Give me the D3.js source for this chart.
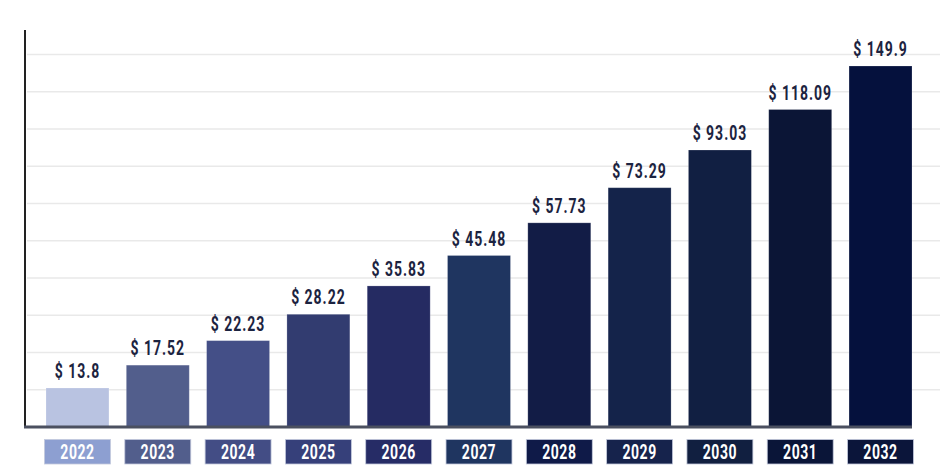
<!DOCTYPE html>
<html>
<head>
<meta charset="utf-8">
<script src="https://cdn.jsdelivr.net/npm/d3@7"></script>
<style>
  html, body { margin: 0; padding: 0; background: #fff; }
  svg { display: block; }
  text { font-family: Roboto, 'Noto Sans', sans-serif; font-weight: bold; }
</style>
</head>
<body>
<script>
(function (d3) {
  'use strict';

  const years = ['2022', '2023', '2024', '2025', '2026', '2027', '2028', '2029', '2030', '2031', '2032'];
  const values = [13.8, 17.52, 22.23, 28.22, 35.83, 45.48, 57.73, 73.29, 93.03, 118.09, 149.9];
  const barColors = ['#b9c3e1', '#525e8c', '#444f87', '#323c70', '#252b62', '#1f3560',
                     '#121c46', '#14234a', '#111f42', '#0b1536', '#05113d'];
  const boxColors = ['#8d9fd1', '#525e8c', '#434d85', '#36407a', '#262c66', '#1f3560',
                     '#0f1a48', '#16234c', '#111f40', '#0a1538', '#0b153a'];
  const gridSteps = 10;

  const width = 940;
  const height = 475;
  const margin = { top: 30, right: 28, bottom: 48, left: 25 };
  const baseY = height - margin.bottom; // 427
  const squeeze = 0.7; // the original font is a condensed one

  const svg = d3.select('body')
    .append('svg')
    .attr('width', width)
    .attr('height', height);

  const data = years.map((y, i) => ({ year: y, value: values[i], bar: barColors[i], box: boxColors[i] }));

  const x = d3.scaleBand()
    .domain(years)
    .range([46, 912])
    .paddingInner(0.216)
    .paddingOuter(0);

  // the bars in the picture are not linear in value; a power scale matches them
  const y = d3.scalePow()
    .exponent(0.3)
    .domain([13.8, 149.9])
    .range([388, 66]);

  const grid = d3.scaleLinear()
    .domain([0, gridSteps])
    .range([baseY, 54.6]);

  // grid lines
  svg.append('g')
    .selectAll('line')
    .data(d3.range(1, gridSteps + 1))
    .join('line')
    .attr('x1', margin.left + 2)
    .attr('x2', width)
    .attr('y1', (d) => grid(d))
    .attr('y2', (d) => grid(d))
    .attr('stroke', '#e9e9e9')
    .attr('stroke-width', 1.5);

  // bars
  svg.append('g')
    .selectAll('rect')
    .data(data)
    .join('rect')
    .attr('x', (d) => x(d.year))
    .attr('y', (d) => y(d.value))
    .attr('width', x.bandwidth())
    .attr('height', (d) => baseY - y(d.value))
    .attr('fill', (d) => d.bar)
    .attr('stroke', 'rgba(255,255,255,0.25)')
    .attr('stroke-width', 0.8);

  // value labels
  svg.append('g')
    .selectAll('text')
    .data(data)
    .join('text')
    .attr('transform', (d) => `translate(${x(d.year) + x.bandwidth() / 2},${y(d.value) - 10}) scale(${squeeze},1)`)
    .attr('text-anchor', 'middle')
    .attr('font-size', 20)
    .attr('letter-spacing', 1.4)
    .attr('fill', '#1c2340')
    .text((d) => '$ ' + d.value);

  // axes lines
  svg.append('line')
    .attr('x1', margin.left)
    .attr('x2', margin.left)
    .attr('y1', margin.top)
    .attr('y2', baseY + 1)
    .attr('stroke', '#222')
    .attr('stroke-width', 2);

  svg.append('line')
    .attr('x1', margin.left - 1)
    .attr('x2', 912)
    .attr('y1', baseY)
    .attr('y2', baseY)
    .attr('stroke', '#4b5060')
    .attr('stroke-width', 3);

  // year boxes
  const boxes = svg.append('g')
    .selectAll('g')
    .data(data)
    .join('g')
    .attr('transform', (d) => `translate(${x(d.year) - 1.5},439.5)`);

  boxes.append('rect')
    .attr('width', x.bandwidth() + 3)
    .attr('height', 24.5)
    .attr('fill', (d) => d.box)
    .attr('stroke', '#c3c9dc')
    .attr('stroke-width', 0.8);

  boxes.append('text')
    .attr('transform', `translate(${(x.bandwidth() + 3) / 2},19.5) scale(${squeeze},1)`)
    .attr('text-anchor', 'middle')
    .attr('font-size', 20)
    .attr('letter-spacing', 0.8)
    .attr('fill', '#fff')
    .text((d) => d.year);

})(d3);
</script>
</body>
</html>
